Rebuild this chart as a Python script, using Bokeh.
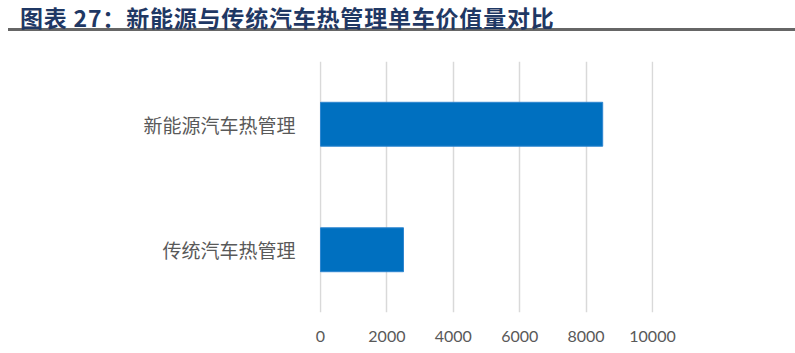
from bokeh.plotting import figure
from bokeh.layouts import column
from bokeh.models import Range1d, FactorRange, FixedTicker, Div
from bokeh.embed import file_html
from bokeh.resources import INLINE

title_text = "图表 27：新能源与传统汽车热管理单车价值量对比"
categories = ["传统汽车热管理", "新能源汽车热管理"]
values = [2500, 8500]
x_ticks = [0, 2000, 4000, 6000, 8000, 10000]

W = 795

header = Div(
    text=(
        '<div style="margin:0;padding:3px 0 0 20px;height:28px;width:767px;'
        "font-family:'Noto Sans CJK SC';font-weight:bold;font-size:23px;"
        'letter-spacing:0.8px;line-height:28px;color:#1F3864;white-space:nowrap;">'
        + title_text +
        '</div><div style="margin:0 0 0 8px;width:787px;height:3px;background:#666666;"></div>'
    ),
    width=W, height=40, margin=(0, 0, 0, 0),
)

p = figure(width=W, height=313, y_range=FactorRange(*categories),
           x_range=Range1d(-30, 10030), output_backend="svg", toolbar_location=None,
           min_border_left=319, min_border_right=142, min_border_top=21,
           min_border_bottom=41, margin=(0, 0, 0, 0))
p.hbar(y=categories, right=values, height=0.35, fill_color="#0070C0",
       line_color="#2E86D0", line_width=1)
p.outline_line_color = None
p.ygrid.visible = False
p.xgrid.grid_line_color = "#D9D9D9"
p.xgrid.grid_line_width = 1.5
p.xaxis.ticker = FixedTicker(ticks=x_ticks)
for ax in (p.xaxis[0], p.yaxis[0]):
    ax.axis_line_color = None
    ax.major_tick_line_color = None
    ax.minor_tick_line_color = None
    ax.major_label_text_color = "#595959"
p.xaxis.major_label_text_font = "Lato"
p.xaxis.major_label_text_font_size = "16px"
p.xaxis.major_label_standoff = 12
p.yaxis.major_label_text_font = "Noto Sans CJK SC"
p.yaxis.major_label_text_font_size = "19px"
p.yaxis.major_label_standoff = 18

layout = column(header, p, spacing=0, margin=(0, 0, 0, 0))
open("out.html", "w").write(file_html(layout, INLINE))
